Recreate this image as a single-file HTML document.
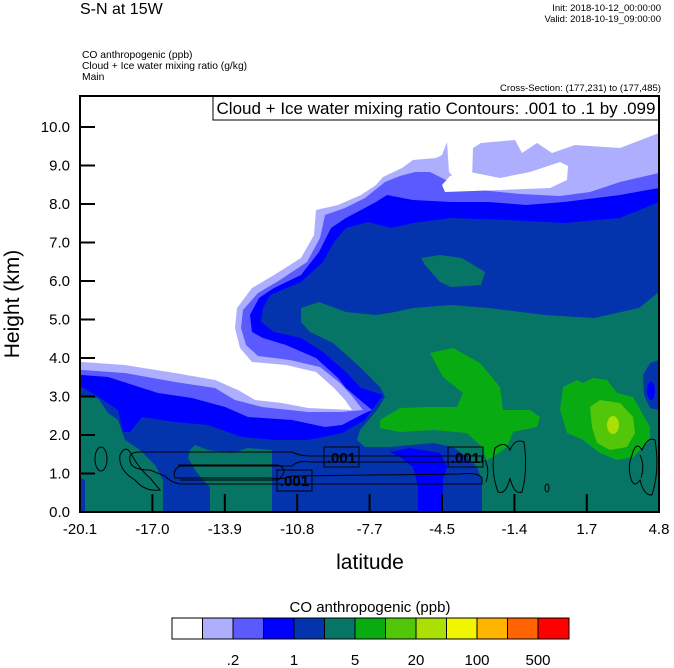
<!DOCTYPE html>
<html><head><meta charset="utf-8"><style>
html,body{margin:0;padding:0;background:#fff;}
svg{display:block;font-family:"Liberation Sans",Arial,sans-serif;}
</style></head><body>
<svg width="674" height="668" viewBox="0 0 674 668" xmlns="http://www.w3.org/2000/svg">
<rect width="674" height="668" fill="#fff"/>
<text x="80" y="14" font-size="16">S-N at 15W</text>
<text x="661" y="11" font-size="9.5" text-anchor="end">Init: 2018-10-12_00:00:00</text>
<text x="661" y="22" font-size="9.5" text-anchor="end">Valid: 2018-10-19_09:00:00</text>
<text x="82" y="58" font-size="10.3">CO anthropogenic   (ppb)</text>
<text x="82" y="69" font-size="10.3">Cloud + Ice water mixing ratio   (g/kg)</text>
<text x="82" y="80" font-size="10.3">Main</text>
<text x="661" y="91" font-size="9.6" text-anchor="end">Cross-Section: (177,231) to (177,485)</text>

<defs><clipPath id="pc"><rect x="80" y="96" width="579" height="416"/></clipPath></defs>
<g clip-path="url(#pc)">
<rect x="80" y="96" width="579" height="416" fill="#077565"/>
<polygon fill="#0334ae" points="80,96 659,96 659,292 639,308 594,318 545,315 489,308 451,305 413,308 395,312 376,315 346,312 319,302 301,308 301,322 310,332 333,343 360,367 380,387 385,397 377,410 360,430 357,440 365,447 390,447 433,443 453,447 467,457 477,467 482,480 482,512 80,512"/>
<polygon fill="#077565" points="80,397 98,398 108,413 118,420 125,440 140,450 155,465 163,480 163,512 85,512 85,480 80,478"/>
<polygon fill="#077565" points="190,450 195,445 208,450 232,453 248,448 272,450 272,512 210,512 210,487 203,480 195,470 188,458"/>
<polygon fill="#077565" points="421,258 440,255 462,258 485,272 481,285 451,287 440,282 425,265"/>
<polygon fill="#0000ff" points="390,452 410,448 440,453 447,467 443,480 443,512 418,512 418,487 413,467 400,457"/>
<polygon fill="#0000ff" points="80,96 659,96 659,202 620,218 564,223 507,220 451,218 413,223 391,228 368,222 346,228 334,242 323,262 301,282 270,295 263,308 261,322 274,332 301,338 323,352 346,372 361,388 383,395 372,410 365,420 342,433 308,440 275,440 242,437 208,425 175,422 142,417 130,432 123,432 118,410 100,398 82,387 80,387"/>
<polygon fill="#5a5aff" points="80,96 659,96 659,188 620,195 564,202 526,205 489,202 451,202 413,200 387,195 376,202 346,218 331,228 319,252 301,275 274,288 259,298 250,315 252,332 263,338 286,345 316,358 338,378 346,388 360,400 372,410 363,414 342,425 325,427 292,420 248,417 225,407 192,398 158,393 108,377 82,375 80,375"/>
<polygon fill="#aeaefe" points="80,96 659,96 659,173 620,182 590,192 560,196 520,194 480,190 450,182 430,172 415,172 400,176 385,182 365,198 345,208 325,215 320,238 307,262 280,280 258,293 243,310 241,328 246,345 258,356 290,360 320,367 340,383 352,396 363,410 342,412 308,412 262,407 235,400 215,388 175,382 125,373 82,370 80,370"/>
<polygon fill="#fff" points="80,96 659,96 659,133 620,148 575,145 552,153 537,143 522,153 515,140 481,143 473,148 472,180 458,182 449,172 447,142 442,155 436,158 413,160 402,168 383,177 376,185 361,195 338,205 316,210 314,235 301,258 274,275 252,288 237,308 235,328 240,348 252,362 286,365 316,372 334,388 345,400 352,410 308,408 282,403 255,400 238,390 215,380 175,373 125,365 82,362 80,362"/>
<polygon fill="#fff" points="442,185 450,176 470,172 500,178 530,172 560,162 568,166 567,180 550,188 500,190 445,192"/>
<polygon fill="#09ab13" points="430,353 453,348 480,363 500,387 503,410 530,410 540,417 537,427 513,432 507,447 493,457 487,460 480,445 467,433 433,430 400,432 380,428 380,420 400,408 427,407 457,407 463,393 443,377"/>
<polygon fill="#09ab13" points="560,410 563,387 577,380 583,383 593,378 607,380 617,393 633,397 650,427 650,440 633,457 617,460 600,453 583,440 567,433"/>
<polygon fill="#52c70a" points="590,407 600,400 620,403 633,417 635,433 627,447 610,450 597,443 592,427"/>
<ellipse cx="613" cy="425" rx="6" ry="9" fill="#aae005"/>
<polygon fill="#0334ae" points="643,375 650,363 659,360 659,410 650,408 644,395"/>
<ellipse cx="651" cy="391" rx="4" ry="9" fill="#0000ff"/>
<g fill="none" stroke="#000" stroke-width="1">
<path d="M130,460 Q128,452 140,452 L292,452 Q300,456 310,456 L482,456 L482,462 L310,462 Q298,460 292,466 L180,466 Q172,470 175,478 L270,478 Q282,480 292,476 L460,474 Q478,472 482,478 L482,484 L180,484 Q170,482 165,476 L150,470 Q130,470 130,460 Z"/>
<path d="M178,465 L278,465 Q290,470 278,480 L180,480"/>
<ellipse cx="101" cy="459" rx="6" ry="12"/>
<path d="M120,455 Q125,445 130,452 Q140,470 150,478 L160,490 Q145,492 135,480 Q118,470 120,455 Z"/>
<path d="M495,448 Q505,440 510,450 Q515,438 524,442 Q528,470 522,492 Q514,495 510,478 Q506,495 498,492 Q490,470 495,448 Z"/>
<path d="M485,460 Q490,470 486,482"/>
<ellipse cx="547" cy="488" rx="2" ry="4"/>
<path d="M632,455 Q636,440 642,450 Q648,436 655,440 Q660,470 652,495 Q644,496 640,480 Q633,490 630,475 Q628,465 632,455 Z"/>
<path d="M640,455 Q645,465 641,478"/>
</g>
<g font-size="15" font-weight="bold">
<rect x="324" y="447" width="35" height="20" fill="none" stroke="#000"/>
<text x="341.5" y="463" text-anchor="middle">.001</text>
<rect x="277" y="470" width="35" height="21" fill="none" stroke="#000"/>
<text x="294.5" y="486" text-anchor="middle">.001</text>
<rect x="448" y="447" width="35" height="20" fill="none" stroke="#000"/>
<text x="465.5" y="463" text-anchor="middle">.001</text>
</g>
</g>
<rect x="213" y="96" width="446" height="24" fill="#fff" stroke="#000" stroke-width="1"/>
<text x="436" y="114" font-size="17" text-anchor="middle">Cloud + Ice water mixing ratio Contours: .001 to .1 by .099</text>
<rect x="80" y="96" width="579" height="416" fill="none" stroke="#000" stroke-width="2"/>
<g stroke="#000" stroke-width="2">
<line x1="80" y1="127" x2="95" y2="127"/><line x1="80" y1="165.5" x2="95" y2="165.5"/><line x1="80" y1="204" x2="95" y2="204"/><line x1="80" y1="242.5" x2="95" y2="242.5"/><line x1="80" y1="281" x2="95" y2="281"/><line x1="80" y1="319.5" x2="95" y2="319.5"/><line x1="80" y1="358" x2="95" y2="358"/><line x1="80" y1="396.5" x2="95" y2="396.5"/><line x1="80" y1="435" x2="95" y2="435"/><line x1="80" y1="473.5" x2="95" y2="473.5"/>
<line x1="152.4" y1="512" x2="152.4" y2="494"/><line x1="224.8" y1="512" x2="224.8" y2="494"/><line x1="297.2" y1="512" x2="297.2" y2="494"/><line x1="369.6" y1="512" x2="369.6" y2="494"/><line x1="442" y1="512" x2="442" y2="494"/><line x1="514.4" y1="512" x2="514.4" y2="494"/><line x1="586.8" y1="512" x2="586.8" y2="494"/>
</g>
<g font-size="15" text-anchor="end">
<text x="70" y="132">10.0</text><text x="70" y="170.5">9.0</text><text x="70" y="209">8.0</text><text x="70" y="247.5">7.0</text><text x="70" y="286">6.0</text><text x="70" y="324.5">5.0</text><text x="70" y="363">4.0</text><text x="70" y="401.5">3.0</text><text x="70" y="440">2.0</text><text x="70" y="478.5">1.0</text><text x="70" y="517">0.0</text>
</g>
<g font-size="15" text-anchor="middle">
<text x="80" y="534">-20.1</text><text x="152.4" y="534">-17.0</text><text x="224.8" y="534">-13.9</text><text x="297.2" y="534">-10.8</text><text x="369.6" y="534">-7.7</text><text x="442" y="534">-4.5</text><text x="514.4" y="534">-1.4</text><text x="586.8" y="534">1.7</text><text x="659" y="534">4.8</text>
</g>
<text x="370" y="569" font-size="21" text-anchor="middle">latitude</text>
<text transform="translate(19,304) rotate(-90)" font-size="21" text-anchor="middle">Height (km)</text>
<text x="370" y="612" font-size="15" text-anchor="middle">CO anthropogenic  (ppb)</text>
<g stroke="#000" stroke-width="1">
<rect x="172" y="618" width="30.5" height="21" fill="#ffffff"/>
<rect x="202.5" y="618" width="30.5" height="21" fill="#aeaefe"/>
<rect x="233" y="618" width="30.5" height="21" fill="#5a5aff"/>
<rect x="263.5" y="618" width="30.5" height="21" fill="#0000ff"/>
<rect x="294" y="618" width="30.5" height="21" fill="#0334ae"/>
<rect x="324.5" y="618" width="30.5" height="21" fill="#077565"/>
<rect x="355" y="618" width="30.5" height="21" fill="#09ab13"/>
<rect x="385.5" y="618" width="30.5" height="21" fill="#52c70a"/>
<rect x="416" y="618" width="30.5" height="21" fill="#aae005"/>
<rect x="446.5" y="618" width="30.5" height="21" fill="#f2f500"/>
<rect x="477" y="618" width="30.5" height="21" fill="#ffb400"/>
<rect x="507.5" y="618" width="30.5" height="21" fill="#ff6400"/>
<rect x="538" y="618" width="31" height="21" fill="#ff0000"/>
</g>
<g font-size="15" text-anchor="middle">
<text x="233" y="665">.2</text><text x="294" y="665">1</text><text x="355" y="665">5</text><text x="416" y="665">20</text><text x="477" y="665">100</text><text x="538" y="665">500</text>
</g>
</svg>
</body></html>
